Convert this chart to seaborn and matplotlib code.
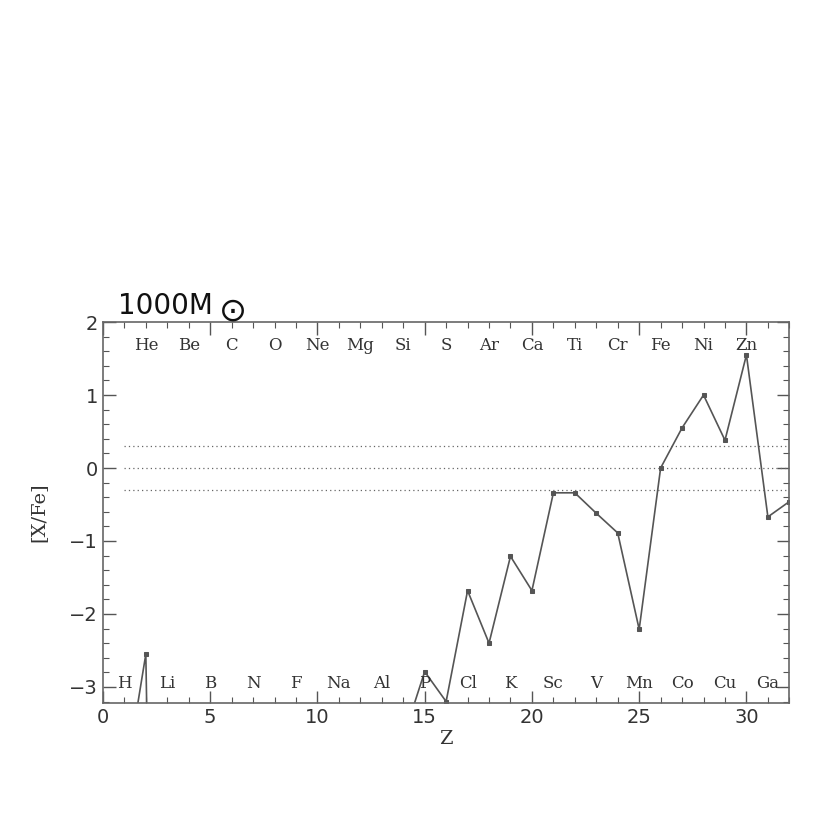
import numpy as np
import pandas as pd
import matplotlib
matplotlib.use("Agg")
import matplotlib.pyplot as plt
import seaborn as sns

# abundance pattern [X/Fe] by atomic number (values below -3.2 fall off the plot)
z_vals = list(range(1, 33))
xfe_vals = [-4.36, -2.55, -20.0, -20.0, -20.0, -20.0, -20.0, -20.0,
            -20.0, -20.0, -20.0, -20.0, -20.0, -3.70, -2.79, -3.20,
            -1.68, -2.40, -1.21, -1.68, -0.34, -0.34, -0.62, -0.89,
            -2.21, 0.00, 0.55, 1.00, 0.38, 1.55, -0.67, -0.46]
elements = ["H", "He", "Li", "Be", "B", "C", "N", "O", "F", "Ne", "Na", "Mg",
            "Al", "Si", "P", "S", "Cl", "Ar", "K", "Ca", "Sc", "Ti", "V", "Cr",
            "Mn", "Fe", "Co", "Ni", "Cu", "Zn", "Ga"]
ref_levels = [0.3, 0.0, -0.3]

df = pd.DataFrame({"Z": z_vals, "XFe": xfe_vals})

sns.set_style("ticks")
plt.rcParams["font.family"] = ["DejaVu Sans"]
line_col = "#555555"

fig = plt.figure(figsize=(8.3, 8.3), dpi=100)
ax = fig.add_axes([0.124, 0.153, 0.827, 0.459])

for lv in ref_levels:
    ax.plot([1, 32], [lv, lv], linestyle=(0, (1, 2.5)), color="#666666", lw=0.9)

sns.lineplot(data=df, x="Z", y="XFe", ax=ax, color=line_col, lw=1.2,
             marker="s", markersize=3.5, markeredgecolor=line_col)

for i, el in enumerate(elements):
    z = i + 1
    y = 1.68 if z % 2 == 0 else -2.95
    ax.text(z, y, el, ha="center", va="center", fontsize=12,
            family="DejaVu Serif", color="#333333")

ax.set_xlim(0, 32)
ax.set_ylim(-3.22, 2.0)
ax.set_xticks(range(0, 35, 5))
ax.set_xticks(range(0, 33), minor=True)
ax.set_yticks([-3, -2, -1, 0, 1, 2])
ax.set_yticks(np.arange(-3.2, 2.01, 0.2), minor=True)
ax.set_yticklabels(["\u22123", "\u22122", "\u22121", "0", "1", "2"])
ax.tick_params(which="both", direction="in", top=True, right=True,
               colors="#555555", labelcolor="#333333", labelsize=14)
ax.tick_params(which="major", length=9, width=1)
ax.tick_params(which="minor", length=4.5, width=0.8)
for sp in ax.spines.values():
    sp.set_color("#666666")
    sp.set_linewidth(1.2)

ax.set_xlabel("Z", fontsize=14, family="DejaVu Serif", color="#333333", labelpad=2)
ax.set_ylabel("[X/Fe]", fontsize=14, family="DejaVu Serif", color="#333333", labelpad=16)

fig.text(0.142, 0.622, "1000M", fontsize=20, color="#111111", ha="left", va="baseline")
fig.text(0.281, 0.625, "\u2299", fontsize=24, color="#111111", ha="center", va="center")

fig.savefig("out.png", dpi=100, facecolor="white")
